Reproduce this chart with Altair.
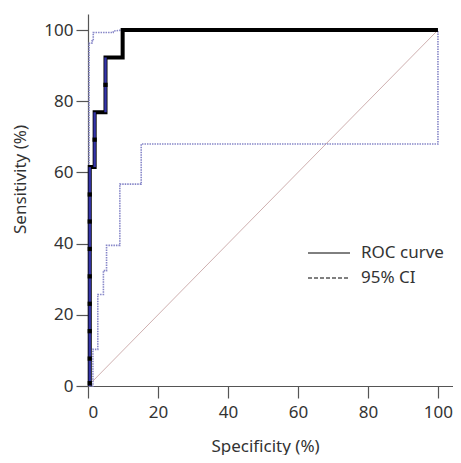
import altair as alt
import pandas as pd

# ROC step curve (x = specificity axis %, y = sensitivity %)
roc_x = [0.5, 0.5, 1.9, 1.9, 5.0, 5.0, 9.9, 9.9, 100]
roc_y = [0, 61.5, 61.5, 76.9, 76.9, 92.3, 92.3, 100, 100]

# blue vertical segments of the ROC curve
blue_x = [0.5, 1.9, 5.0]
blue_y0 = [0, 61.5, 76.9]
blue_y1 = [61.5, 76.9, 92.3]

# dots on the curve
dot_x = [0.5, 0.5, 0.5, 0.5, 0.5, 0.5, 0.5, 0.5, 1.9, 5.0]
dot_y = [0.8, 7.7, 15.4, 23.1, 30.8, 38.5, 46.2, 53.8, 69.2, 84.6]

# 95% CI upper and lower bounds
ci_hi_x = [0.3, 0.3, 1.1, 1.1, 1.5, 1.5, 7.2, 7.2, 9.9, 100]
ci_hi_y = [0, 96.3, 96.3, 96.9, 96.9, 99.3, 99.3, 99.7, 100, 100]
ci_lo_x = [0.3, 1.4, 1.4, 2.8, 2.8, 4.4, 4.4, 5.3, 5.3, 9.1, 9.1, 15.2, 15.2, 100, 100]
ci_lo_y = [0, 0, 10.3, 10.3, 25.7, 25.7, 32.4, 32.4, 39.5, 39.5, 56.7, 56.7, 68.0, 68.0, 100]

# reference diagonal
diag_x = [0, 100]
diag_y = [0, 100]

legend_labels = ["ROC curve", "95% CI"]
ticks = [0, 20, 40, 60, 80, 100]

FONT = "Noto Sans"

roc_df = pd.DataFrame({"x": roc_x, "y": roc_y, "o": range(len(roc_x))})
blue_df = pd.DataFrame({"x": blue_x, "y": blue_y0, "y2": blue_y1})
dot_df = pd.DataFrame({"x": dot_x, "y": dot_y})
hi_df = pd.DataFrame({"x": ci_hi_x, "y": ci_hi_y, "o": range(len(ci_hi_x))})
lo_df = pd.DataFrame({"x": ci_lo_x, "y": ci_lo_y, "o": range(len(ci_lo_x))})
diag_df = pd.DataFrame({"x": diag_x, "y": diag_y})
leg_df = pd.DataFrame({"x": [100, 100], "y": [100, 100], "series": legend_labels})

xscale = alt.Scale(domain=[0, 104.3], nice=False, zero=False)
yscale = alt.Scale(domain=[0, 104.5], nice=False, zero=False)

xax = alt.Axis(values=ticks, title="Specificity (%)", grid=False, tickSize=12,
               labelPadding=6, titleX=177, titleY=60, titleBaseline="middle",
               titleAlign="center")
yax = alt.Axis(values=ticks, title="Sensitivity (%)", grid=False, tickSize=12,
               labelPadding=3, titleX=-68, titleY=165, titleBaseline="middle",
               titleAlign="center")

X = alt.X("x:Q", scale=xscale, axis=xax)
Y = alt.Y("y:Q", scale=yscale, axis=yax)
Xn = alt.X("x:Q", scale=xscale)
Yn = alt.Y("y:Q", scale=yscale)

diag = alt.Chart(diag_df).mark_line(color="#cfb0b0", strokeWidth=1).encode(x=X, y=Y)
ci_lo = alt.Chart(lo_df).mark_line(color="#8787c8", strokeWidth=1.6, strokeDash=[1.5, 1]).encode(
    x=Xn, y=Yn, order="o:Q")
ci_hi = alt.Chart(hi_df).mark_line(color="#8787c8", strokeWidth=1.6, strokeDash=[1.5, 1]).encode(
    x=Xn, y=Yn, order="o:Q")
roc = alt.Chart(roc_df).mark_line(color="black", strokeWidth=4).encode(
    x=Xn, y=Yn, order="o:Q")
blue = alt.Chart(blue_df).mark_rule(color="#3434a8", strokeWidth=2.4).encode(
    x=Xn, y=Yn, y2="y2:Q")
dots = alt.Chart(dot_df).mark_point(filled=True, color="black", size=18, shape="square",
                                    opacity=1).encode(x=Xn, y=Yn)

leg = alt.Chart(leg_df).mark_line(opacity=0).encode(
    x=Xn, y=Yn,
    strokeDash=alt.StrokeDash(
        "series:N",
        scale=alt.Scale(domain=legend_labels, range=[[1, 0], [4, 2]]),
        legend=alt.Legend(title=None, orient="none", legendX=230, legendY=228,
                          symbolType="M-2,0H2", symbolSize=441,
                          symbolStrokeColor="black", symbolStrokeWidth=1,
                          symbolOpacity=1, labelFontSize=17, labelFont=FONT,
                          labelColor="#333", labelOffset=21, rowPadding=6),
    ),
)

chart = alt.layer(diag, ci_lo, ci_hi, roc, blue, dots, leg).properties(
    width=365, height=372,
    autosize="none",
    padding={"left": 80, "top": 6, "right": 0, "bottom": 69},
).configure_view(stroke=None).configure_axis(
    domainColor="#555", tickColor="#555", domainWidth=1.2, tickWidth=1.2,
    labelFont=FONT, titleFont=FONT, labelFontSize=17, titleFontSize=17,
    labelColor="#333", titleColor="#333", titleFontWeight="normal",
)

chart.save("out.html", embed_options={"renderer": "svg", "actions": False})
